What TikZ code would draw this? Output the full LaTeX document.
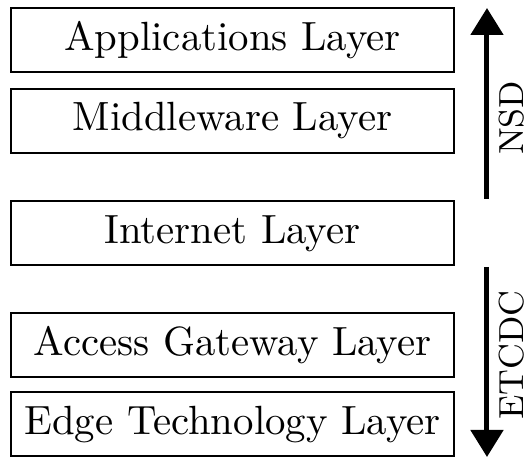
\documentclass[tikz,border=0pt]{standalone}
\usetikzlibrary{arrows.meta}
\begin{document}
\begin{tikzpicture}[x=0.25pt,y=-0.25pt,
  layer/.style={draw,line width=0.5pt,minimum width=110.75pt,minimum height=16pt,
    inner sep=0pt,font=\fontsize{10.2}{12}\selectfont},
  flow/.style={line width=1.25pt,-{Triangle[width=8pt,length=6.75pt]}},
  side/.style={rotate=90,inner sep=0pt,font=\fontsize{8.7}{10}\selectfont}]
  \useasboundingbox (0,0) rectangle (528,458);
  % protocol stack
  \node[layer] (app)  at (232.5,40.5)  {Applications Layer};
  \node[layer] (mid)  at (232.5,121)   {Middleware Layer};
  \node[layer] (inet) at (232.5,233.5) {Internet Layer};
  \node[layer] (acc)  at (232.5,345)   {Access Gateway Layer};
  \node[layer] (edge) at (232.5,424.5) {Edge Technology Layer};
  % direction arrows on the right
  \coordinate (upfrom) at (487,199);
  \coordinate (upto)   at (487,8);
  \coordinate (dnfrom) at (487,267);
  \coordinate (dnto)   at (487,457);
  \draw[flow] (upfrom) -- (upto);
  \draw[flow] (dnfrom) -- (dnto);
  \node[side] (nsd)   at (512,118) {NSD};
  \node[side] (etcdc) at (512,355) {ETCDC};
\end{tikzpicture}
\end{document}
